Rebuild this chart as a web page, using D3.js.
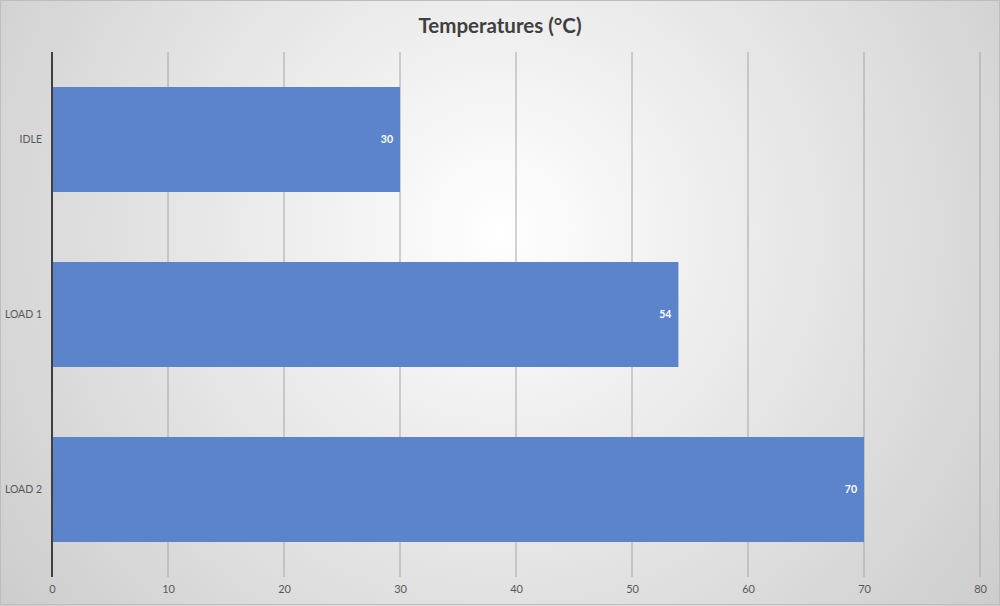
<!DOCTYPE html>
<html lang="en">
  <head>
    <meta charset="utf-8">
    <title>Temperatures</title>
    <script src="https://cdn.jsdelivr.net/npm/d3@7"></script>
    <style>
      body { margin: 0; }
      .grid line { stroke: #a6a6a6; stroke-width: 1; }
      .tick text { fill: #595959; font-family: Lato, "Open Sans", sans-serif; }
    </style>
  </head>
  <body>
    <script>
      var categories = ["IDLE", "LOAD 1", "LOAD 2"];
      var temps = [30, 54, 70];
      var xTicks = [0, 10, 20, 30, 40, 50, 60, 70, 80];
      var title = "Temperatures (°C)";

      var w = 1000, h = 606;
      var padLeft = 52, padRight = 980, padTop = 52, padBottom = 577;

      var svg = d3.select("body").append("svg")
                  .attr("width", w)
                  .attr("height", h);

      var defs = svg.append("defs");
      var grad = defs.append("radialGradient")
                     .attr("id", "bg")
                     .attr("gradientUnits", "userSpaceOnUse")
                     .attr("cx", 500).attr("cy", 230).attr("r", 620);
      grad.append("stop").attr("offset", "0%").attr("stop-color", "#ffffff");
      grad.append("stop").attr("offset", "100%").attr("stop-color", "#cdcdcd");

      svg.append("rect")
         .attr("width", w).attr("height", h)
         .attr("fill", "url(#bg)");
      svg.append("rect")
         .attr("x", 0.5).attr("y", 0.5)
         .attr("width", w - 1).attr("height", h - 2)
         .attr("fill", "none")
         .attr("stroke", "#bdbdbd");

      var xScale = d3.scaleLinear().domain([0, 80]).range([padLeft, padRight]);
      var yScale = d3.scaleBand().domain(categories).range([padTop, padBottom])
                     .paddingInner(0.4).paddingOuter(0.2);

      // gridlines
      svg.append("g")
         .attr("class", "grid")
         .selectAll("line")
         .data(xTicks.slice(1))
         .enter().append("line")
         .attr("x1", function(d) { return xScale(d); })
         .attr("x2", function(d) { return xScale(d); })
         .attr("y1", padTop)
         .attr("y2", padBottom);

      // bars
      svg.selectAll(".bar")
         .data(temps)
         .enter().append("rect")
         .attr("class", "bar")
         .attr("x", xScale(0))
         .attr("y", function(d, i) { return yScale(categories[i]); })
         .attr("width", function(d) { return xScale(d) - xScale(0); })
         .attr("height", yScale.bandwidth())
         .attr("fill", "#5b84cb");

      // value labels
      svg.selectAll(".val")
         .data(temps)
         .enter().append("text")
         .attr("class", "val")
         .attr("x", function(d) { return xScale(d) - 7; })
         .attr("y", function(d, i) { return yScale(categories[i]) + yScale.bandwidth() / 2; })
         .attr("dy", "0.35em")
         .attr("text-anchor", "end")
         .attr("fill", "#ffffff")
         .attr("font-family", "Lato, 'Open Sans', sans-serif")
         .attr("font-weight", "bold")
         .attr("font-size", 10.5)
         .text(function(d) { return d; });

      // x axis labels
      var xAxis = d3.axisBottom(xScale).tickValues(xTicks).tickSize(0).tickPadding(8);
      svg.append("g")
         .attr("transform", "translate(0," + padBottom + ")")
         .call(xAxis)
         .call(function(g) { g.select(".domain").remove(); })
         .selectAll("text").attr("font-size", 11);

      // y axis labels
      var yAxis = d3.axisLeft(yScale).tickSize(0).tickPadding(10);
      svg.append("g")
         .attr("transform", "translate(" + padLeft + ",0)")
         .call(yAxis)
         .call(function(g) { g.select(".domain").remove(); })
         .selectAll("text").attr("font-size", 10.5);

      // vertical axis line
      svg.append("line")
         .attr("x1", xScale(0)).attr("x2", xScale(0))
         .attr("y1", padTop).attr("y2", padBottom)
         .attr("stroke", "#404040")
         .attr("stroke-width", 2);

      svg.append("text")
         .attr("x", 500)
         .attr("y", 33)
         .attr("text-anchor", "middle")
         .attr("fill", "#404040")
         .attr("font-family", "Lato, 'Open Sans', sans-serif")
         .attr("font-weight", "bold")
         .attr("font-size", 20.5)
         .text(title);
    </script>
  </body>
</html>
